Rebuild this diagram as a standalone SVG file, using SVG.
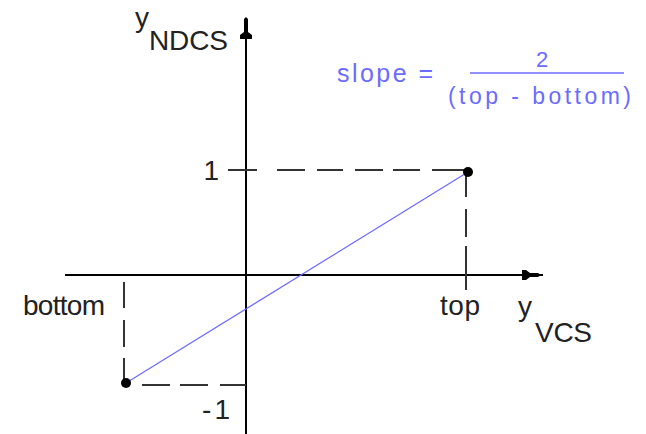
<svg xmlns="http://www.w3.org/2000/svg" width="646" height="434" viewBox="0 0 646 434">
<style>
.lbl{font-family:"Liberation Sans",Arial,sans-serif;font-size:28px;fill:#222}
.sub{font-family:"Liberation Sans",Arial,sans-serif;font-size:28px;fill:#222}
.blu{font-family:"Liberation Sans",Arial,sans-serif;fill:#6b6bff}
.axis{stroke:#000;stroke-width:2;fill:none}
.dash{stroke:#333;stroke-width:2;fill:none}
.pt{fill:#000}
</style>
<rect width="646" height="434" fill="#fff"/>
<g id="connectors">
  <path id="axis-x" class="axis" d="M65 275H543"/>
  <polygon fill="#000" points="522,270 526,270 530,273 538,273 541,275 538,277 530,277 526,280 522,280"/>
  <path id="axis-y" class="axis" d="M246 434V36"/>
  <polygon fill="#000" points="244,19 246,17 248,19 248,32 252,35 252,39 240,39 240,35 244,32"/>
  <path id="guide-top-h" class="dash" d="M228 170H257M277 170H305M317 170H343M355 170H383M393 170H420M432 170H468"/>
  <path id="guide-top-v" class="dash" d="M466 172V197M466 209V237M466 246V290"/>
  <path id="guide-bot-v" class="dash" d="M124 282V308M124 320V347M124 358V383"/>
  <path id="guide-bot-h" class="dash" d="M142 385H170M180 385H208M220 385H246"/>
  <path id="mapping-line" d="M126 383L468 172" stroke="#6b6bff" stroke-width="1.2" fill="none"/>
</g>
<g id="point-top"><circle class="pt" cx="468" cy="172" r="5"/></g>
<g id="point-bottom"><circle class="pt" cx="126" cy="383" r="5"/></g>
<g id="label-yndcs">
  <text class="lbl" x="135" y="27">y</text>
  <text class="sub" x="149" y="50" textLength="79" lengthAdjust="spacing">NDCS</text>
</g>
<g id="label-yvcs">
  <text class="lbl" x="518" y="316">y</text>
  <text class="sub" x="535" y="342" textLength="57" lengthAdjust="spacing">VCS</text>
</g>
<g id="label-one"><text class="lbl" x="219" y="180" text-anchor="end">1</text></g>
<g id="label-minus-one"><text class="lbl" x="202" y="419" textLength="28" lengthAdjust="spacing">-1</text></g>
<g id="label-bottom"><text class="lbl" x="23" y="315" textLength="82" lengthAdjust="spacing">bottom</text></g>
<g id="label-top"><text class="lbl" x="440" y="315" textLength="40" lengthAdjust="spacing">top</text></g>
<g id="slope-formula">
  <text class="blu" x="337" y="82" font-size="25" textLength="96" lengthAdjust="spacing">slope =</text>
  <text class="blu" x="542" y="67" font-size="22" text-anchor="middle">2</text>
  <path d="M470 73H624" stroke="#6b6bff" stroke-width="1.5"/>
  <text class="blu" x="448" y="104" font-size="23" textLength="183" lengthAdjust="spacing">(top - bottom)</text>
</g>
</svg>
